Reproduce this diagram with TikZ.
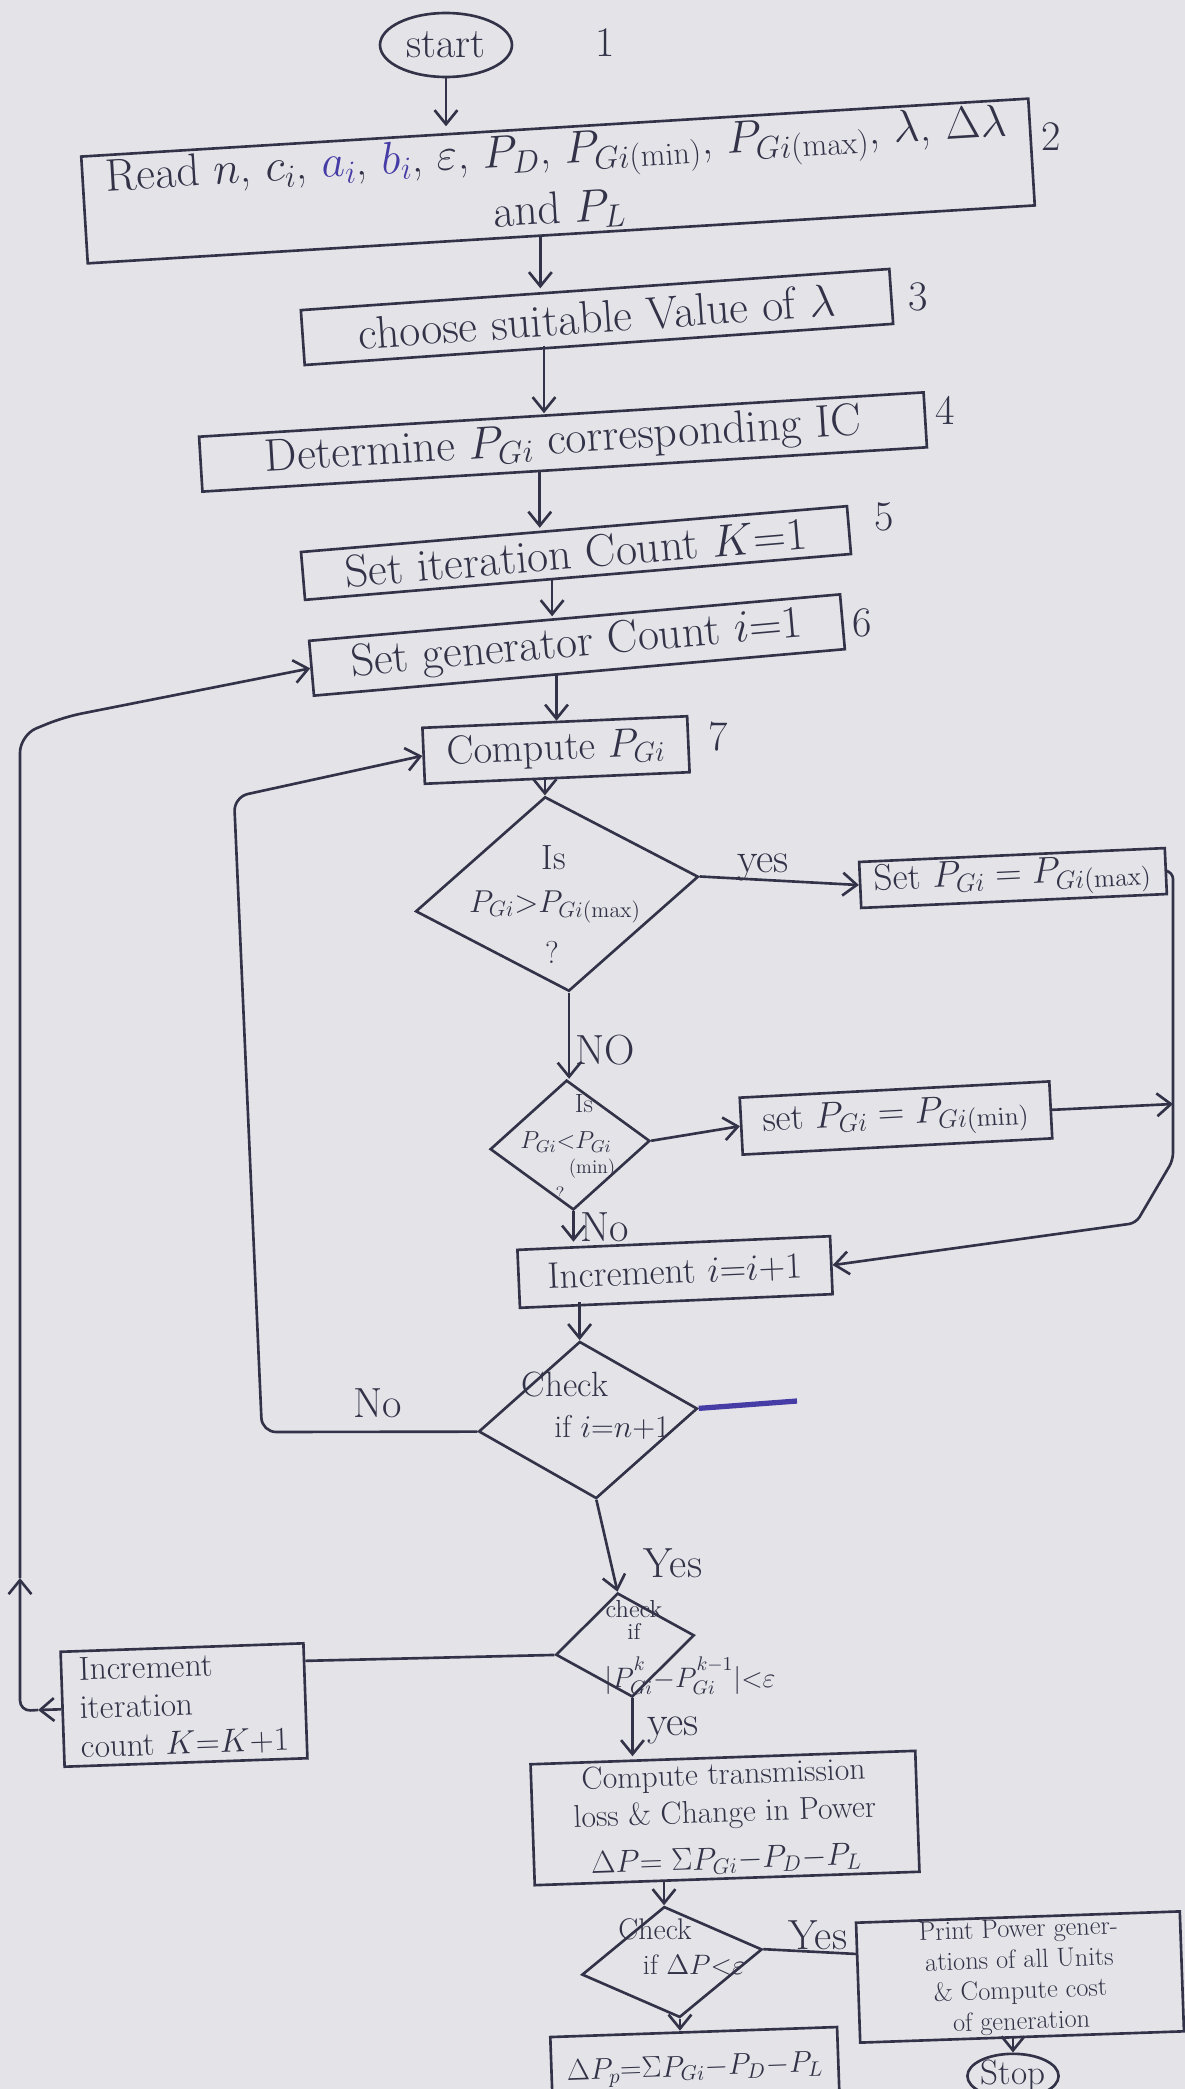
\documentclass[tikz,border=0pt]{standalone}
\usepackage{fix-cm}
\usetikzlibrary{arrows.meta,shapes.geometric,calc}
\definecolor{ink}{RGB}{50,50,72}
\definecolor{paper}{RGB}{228,228,232}
\definecolor{blueink}{RGB}{70,60,165}
\newcommand{\hisup}[1]{\raisebox{4pt}{$\scriptstyle #1$}}
\begin{document}
\begin{tikzpicture}[x=0.02cm,y=-0.02cm, line width=1.5pt, color=ink,
  arr/.style={-{Straight Barb[length=8pt,width=13pt]}},
  box/.style={draw, rectangle, inner sep=0pt, align=center},
  dia/.style={draw, diamond, inner sep=0pt},
  oval/.style={draw, ellipse, inner sep=0pt},
  txt/.style={inner sep=0pt, align=center},
  lbl/.style={inner sep=0pt, font=\fontsize{24}{24}\selectfont}]
\clip (0,0) rectangle (1185,2089);
\fill[paper] (0,0) rectangle (1185,2089);

% ---------- nodes ----------
\node[oval, minimum width=2.64cm, minimum height=1.28cm, font=\fontsize{24}{24}\selectfont] (start) at (446,45) {start};
\node[lbl] (n1) at (605,43) {1};

\node[box, rotate=3.5, minimum width=18.98cm, minimum height=2.14cm, font=\fontsize{26}{34}\selectfont] (read) at (558,181)
  {Read $n$, $c_i$, \textcolor{blueink}{$a_i$}, \textcolor{blueink}{$b_i$}, $\varepsilon$, $P_D$, $P_{Gi(\min)}$, $P_{Gi(\max)}$, $\lambda$, $\Delta\lambda$\\ and $P_L$};
\node[lbl] (n2) at (1051,137) {2};

\node[box, rotate=4, minimum width=11.8cm, minimum height=1.1cm, font=\fontsize{26}{30}\selectfont] (choose) at (597,317) {choose suitable Value of $\lambda$};
\node[lbl] (n3) at (918,297) {3};

\node[box, rotate=3.5, minimum width=14.52cm, minimum height=1.1cm, font=\fontsize{26}{30}\selectfont] (det) at (563,442) {Determine $P_{Gi}$ corresponding IC};
\node[lbl] (n4) at (945,410) {4};

\node[box, rotate=4.8, minimum width=10.96cm, minimum height=0.96cm, font=\fontsize{26}{30}\selectfont] (setK) at (576,553) {Set iteration Count $K{=}1$};
\node[lbl] (n5) at (884,517) {5};

\node[box, rotate=5, minimum width=10.66cm, minimum height=1.1cm, font=\fontsize{26}{30}\selectfont] (setI) at (577,645) {Set generator Count $i{=}1$};
\node[lbl] (n6) at (862,623) {6};

\node[box, rotate=2.5, minimum width=5.3cm, minimum height=1.12cm, font=\fontsize{23}{26}\selectfont] (comp) at (556,750) {Compute $P_{Gi}$};
\node[lbl] (n7) at (718,737) {7};

% decision 1
\node[dia, rotate=7, minimum width=5.7cm, minimum height=3.92cm] (d1) at (557,894) {};
\node[txt, font=\fontsize{20}{20}\selectfont] (d1a) at (554,858) {Is};
\node[txt, font=\fontsize{18}{18}\selectfont] (d1b) at (555,907) {$P_{Gi}{>}P_{Gi(\max)}$};
\node[txt, font=\fontsize{18}{18}\selectfont] (d1c) at (552,952) {?};
\node[box, rotate=2.6, minimum width=6.12cm, minimum height=0.92cm, font=\fontsize{21}{24}\selectfont] (smax) at (1013,878) {Set $P_{Gi}=P_{Gi(\max)}$};
\node[lbl] (yes1) at (763,867) {yes};

% decision 2
\node[dia, rotate=3, minimum width=3.2cm, minimum height=2.6cm] (d2) at (570,1145) {};
\node[txt, font=\fontsize{15}{15}\selectfont] (d2a) at (584,1104) {Is};
\node[txt, font=\fontsize{14}{14}\selectfont] (d2b) at (566,1142) {$P_{Gi}{<}P_{Gi}$};
\node[txt, font=\fontsize{11}{11}\selectfont] (d2c) at (592,1169) {(min)};
\node[txt, font=\fontsize{11}{11}\selectfont] (d2d) at (560,1194) {?};
\node[box, rotate=3, minimum width=6.2cm, minimum height=1.14cm, font=\fontsize{21}{24}\selectfont] (smin) at (896,1118) {set $P_{Gi}=P_{Gi(\min)}$};
\node[lbl] (no1) at (605,1050) {NO};
\node[lbl] (no2) at (605,1227) {No};

\node[box, rotate=2.5, minimum width=6.26cm, minimum height=1.16cm, font=\fontsize{21}{24}\selectfont] (incI) at (675,1272) {Increment $i{=}i{+}1$};

% decision 3
\node[dia, rotate=6, minimum width=4.4cm, minimum height=3.16cm] (d3) at (588,1420) {};
\node[txt, font=\fontsize{20}{20}\selectfont] (d3a) at (565,1384) {Check};
\node[txt, font=\fontsize{18}{18}\selectfont] (d3b) at (612,1427) {if $i{=}n{+}1$};
\node[lbl] (no3) at (378,1403) {No};
\node[lbl] (yes2) at (673,1563) {Yes};

% decision 4
\node[dia, rotate=8, minimum width=2.8cm, minimum height=2.1cm] (d4) at (625,1645) {};
\node[txt, font=\fontsize{14}{14}\selectfont] (d4a) at (634,1609) {check};
\node[txt, font=\fontsize{13}{13}\selectfont] (d4b) at (634,1631) {if};
\node[txt, font=\fontsize{16}{16}\selectfont] (d4c) at (690,1676) {$|P_{Gi}^{\hisup{k}}{-}P_{Gi}^{\hisup{k-1}}|{<}\varepsilon$};

\node[box, rotate=2, minimum width=4.86cm, minimum height=2.3cm, align=left, font=\fontsize{19}{22}\selectfont] (incK) at (184,1705) {Increment\\iteration\\count $K{=}K{+}1$};
\node[lbl] (yes3) at (673,1730) {yes};

\node[box, rotate=2, minimum width=7.7cm, minimum height=2.42cm, font=\fontsize{18}{21.6}\selectfont] (compT) at (725,1818) {Compute transmission\\loss \& Change in Power\\[5pt]$\Delta P{=}\;\Sigma P_{Gi}{-}P_D{-}P_L$};

% decision 5
\node[dia, rotate=8, minimum width=3.64cm, minimum height=2.24cm] (d5) at (672,1962) {};
\node[txt, font=\fontsize{17}{17}\selectfont] (d5a) at (655,1929) {Check};
\node[txt, font=\fontsize{16}{16}\selectfont] (d5b) at (694,1965) {if $\Delta P{<}\varepsilon$};
\node[lbl] (yes4) at (818,1935) {Yes};

\node[box, rotate=2, minimum width=6.48cm, minimum height=2.4cm, font=\fontsize{15}{17.5}\selectfont] (print) at (1020,1977) {Print Power gener-\\ations of all Units\\\& Compute cost\\of generation};
\node[oval, minimum width=1.8cm, minimum height=0.84cm, font=\fontsize{20}{20}\selectfont] (stop) at (1013,2076) {Stop};
\node[box, rotate=2, minimum width=5.74cm, minimum height=1.52cm, font=\fontsize{17}{20}\selectfont] (fin) at (695,2070) {$\Delta P_p{=}\Sigma P_{Gi}{-}P_D{-}P_L$};

% ---------- connectors ----------
\coordinate (r1) at ($(read.south)+(-21,0)$);
\coordinate (c1) at ($(choose.south)+(-55,0)$);
\coordinate (t1) at ($(det.south)+(-25,0)$);
\coordinate (k1) at ($(setK.south)+(-26,0)$);
\coordinate (i1) at ($(setI.south)+(-23,0)$);
\draw[arr] (start.south) -- (start.south |- read.north);
\draw[arr] (r1) -- (r1 |- choose.north);
\draw[arr] (c1) -- (c1 |- det.north);
\draw[arr] (t1) -- (t1 |- setK.north);
\draw[arr] (k1) -- (k1 |- setI.north);
\draw[arr] (i1) -- (i1 |- comp.north);
\draw[arr] (d1.north |- comp.south) -- (d1.north);
\draw[arr] (d1.east) -- (smax.west);
\draw[arr] (d1.south) -- (d1.south |- d2.north);
\draw[arr] (d2.east) -- (smin.west);
\draw[arr] (d2.south) -- (d2.south |- incI.north);
\coordinate (j1) at (1173,1104);
\draw[arr] (smin.east) -- (j1);
\draw[arr, rounded corners=4] (smax.east) -- (1173,872) -- (1173,1160) -- (1136,1223) -- (incI.east);
\draw[arr] (d3.north |- incI.south) -- (d3.north);
\coordinate (scr) at (797,1401);
\draw[blueink, line width=3pt] (d3.east) -- (scr);
\draw[arr, rounded corners=8] (d3.west) -- (262,1432) -- (234,797) -- (comp.west);
\draw[arr] (d3.south) -- (d4.north);
\draw (d4.west) -- (incK.18);
\draw[arr] (d4.south) -- (d4.south |- compT.north);
\draw[arr] (incK.west) -- (38,1710);
\draw[arr, rounded corners=6] (38,1710) -- (20,1711) -- (20,1578);
\draw[arr, rounded corners=10] (20,1578) -- (20,735) -- (64,717) -- (setI.west);
\draw[arr] (d5.north |- compT.south) -- (d5.north);
\draw (d5.east) -- (print.170);
\draw[arr] (d5.south) -- (d5.south |- fin.north);
\draw[arr] (stop.north |- print.south) -- (stop.north);
\end{tikzpicture}
\end{document}
